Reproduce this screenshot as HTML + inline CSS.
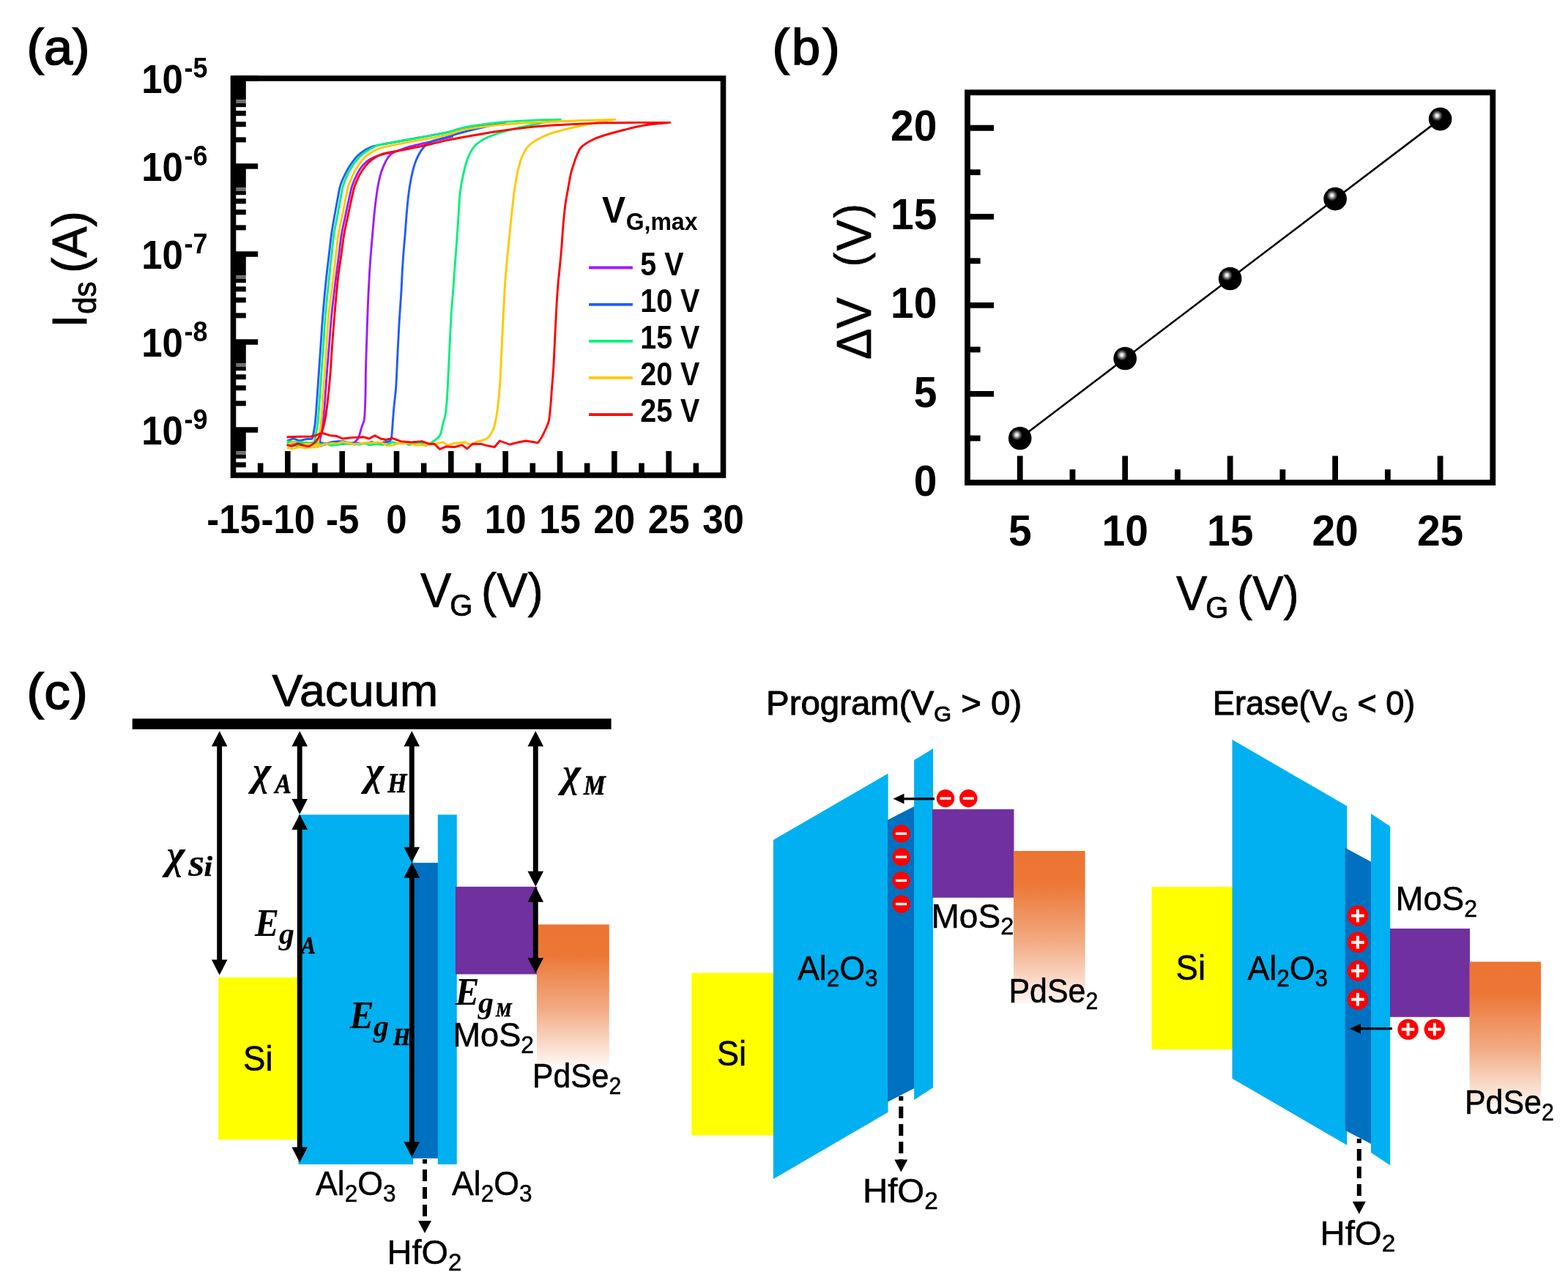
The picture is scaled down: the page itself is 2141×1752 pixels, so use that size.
<!DOCTYPE html>
<html lang="en"><head><meta charset="utf-8"><title>Figure</title>
<style>
html,body{margin:0;padding:0;background:#fff;}
body{width:2141px;height:1752px;overflow:hidden;}
svg{display:block;}
text{fill:#000;}
</style></head><body>
<svg width="2141" height="1752" viewBox="0 0 2141 1752">
<rect x="0" y="0" width="2141" height="1752" fill="#fff"/>
<g id="panel-a">
<path d="M392 605.87L399.5 605.24L407 607.04L414.5 604.96L422 606.63L429.5 606.02L437 604.91L437 601C437.58 597.5 439.5 587.33 440.5 580C441.5 572.67 442.08 568 443 557C443.92 546 444.92 528.33 446 514C447.08 499.67 448.33 485.33 449.5 471C450.67 456.67 451.48 443.17 453 428C454.52 412.83 457.02 393 458.6 380C460.18 367 461.22 360 462.5 350C463.78 340 464.95 328.4 466.3 320C467.65 311.6 469.13 306.6 470.6 299.6C472.07 292.6 473.52 285.2 475.1 278C476.68 270.8 478.77 261.43 480.1 256.4C481.43 251.37 481.95 250.68 483.1 247.8C484.25 244.92 485.55 241.98 487 239.1C488.45 236.22 489.92 233.23 491.8 230.5C493.68 227.77 495.93 224.93 498.3 222.7C500.67 220.47 503.27 218.68 506 217.1C508.73 215.52 511.52 214.35 514.7 213.2C517.88 212.05 520.5 211.35 525.1 210.2C529.7 209.05 536.55 207.97 542.3 206.3C548.05 204.63 548.32 203.23 559.6 200.2C570.88 197.17 600.33 190.38 610 188.1C619.67 185.82 616.33 186.77 617.6 186.5L617.6 186.5C616.33 186.8 619.67 185.98 610 188.3C600.33 190.62 570.88 197.4 559.6 200.4C548.32 203.4 545.75 205.1 542.3 206.3C538.85 207.5 540.33 206.88 538.9 207.6C537.47 208.32 535.28 209.23 533.7 210.6C532.12 211.97 530.83 213.63 529.4 215.8C527.97 217.97 526.55 220.43 525.1 223.6C523.65 226.77 522 230.77 520.7 234.8C519.4 238.83 518.37 242.75 517.3 247.8C516.23 252.85 515.32 257.9 514.3 265.1C513.28 272.3 512.15 281.85 511.2 291C510.25 300.15 509.38 311 508.6 320C507.82 329 507.15 336.67 506.5 345C505.85 353.33 505.37 358.63 504.7 370C504.03 381.37 503.12 398.8 502.5 413.2C501.88 427.6 501.48 442 501 456.4C500.52 470.8 499.95 485.2 499.6 499.6C499.25 514 499.25 530.8 498.9 542.8C498.55 554.8 498.33 564.87 497.5 571.6C496.67 578.33 495.23 578.87 493.9 583.2C492.57 587.53 491.15 594.13 489.5 597.6C487.85 601.07 484.92 602.93 484 604L484 607.04L476.33 604.59L468.67 606.65L461 604.76L453.33 604.87L445.67 606.61L438 608.7L430.33 605.04L422.67 605.56L415 607.66L407.33 609.33L399.67 607.4L392 606.46" fill="none" stroke="#9d1cff" stroke-width="2.9" stroke-linejoin="round" stroke-linecap="butt"/>
<path d="M392 602.21L400.5 598.87L409 601.79L417.5 599.74L426 599.22L427 597C427.5 594.17 429.17 586.67 430 580C430.83 573.33 431.17 568 432 557C432.83 546 434 528.33 435 514C436 499.67 437 485.33 438 471C439 456.67 439.75 443.17 441 428C442.25 412.83 444.17 393 445.5 380C446.83 367 447.83 360 449 350C450.17 340 451.35 328.4 452.5 320C453.65 311.6 454.68 306.6 455.9 299.6C457.12 292.6 458.47 285.2 459.8 278C461.13 270.8 462.75 261.43 463.9 256.4C465.05 251.37 465.58 250.68 466.7 247.8C467.82 244.92 469.2 241.98 470.6 239.1C472 236.22 473.4 233.38 475.1 230.5C476.8 227.62 478.7 224.68 480.8 221.8C482.9 218.92 484.78 216 487.7 213.2C490.62 210.4 494.95 207.13 498.3 205C501.65 202.87 504.5 201.6 507.8 200.4C511.1 199.2 509.47 199.48 518.1 197.8C526.73 196.12 544.28 193.13 559.6 190.3C574.92 187.47 597.73 183.42 610 180.8C622.27 178.18 622.13 176.65 633.2 174.6C644.27 172.55 666.93 169.68 676.4 168.5C685.87 167.32 687.73 167.67 690 167.5L690 167.5C687.73 167.92 683.07 168.58 676.4 170C669.73 171.42 658.57 173.92 650 176C641.43 178.08 631.67 180.62 625 182.5C618.33 184.38 614.42 186 610 187.3C605.58 188.6 601.85 189.37 598.5 190.3C595.15 191.23 592.63 191.67 589.9 192.9C587.17 194.13 584.55 195.62 582.1 197.7C579.65 199.78 577.37 202.23 575.2 205.4C573.03 208.57 570.83 212.8 569.1 216.7C567.37 220.6 566.08 224.33 564.8 228.8C563.52 233.27 562.55 237.45 561.4 243.5C560.25 249.55 558.92 257.18 557.9 265.1C556.88 273.02 556.1 281.85 555.3 291C554.5 300.15 553.82 311 553.1 320C552.38 329 551.63 336.67 551 345C550.37 353.33 549.82 361.03 549.3 370C548.78 378.97 548.62 386.8 547.9 398.8C547.18 410.8 545.85 427.6 545 442C544.15 456.4 543.52 470.8 542.8 485.2C542.08 499.6 541.53 516.4 540.7 528.4C539.87 540.4 538.65 547.6 537.8 557.2C536.95 566.8 536.2 579.03 535.6 586C535 592.97 534.97 596 534.2 599C533.43 602 531.53 603.17 531 604L531 603.01L523.28 604L515.56 606.64L507.83 603.34L500.11 605.42L492.39 605.72L484.67 604.34L476.94 605.25L469.22 602.73L461.5 602.71L453.78 603.47L446.06 605.94L438.33 604.62L430.61 604.03L422.89 605.44L415.17 604.76L407.44 603.96L399.72 606.53L392 606.03" fill="none" stroke="#1f5cff" stroke-width="2.9" stroke-linejoin="round" stroke-linecap="butt"/>
<path d="M392 602.58L401.25 603.77L410.5 603.59L419.75 604.85L429 604.33L430.5 597C431 594.17 432.65 586.67 433.5 580C434.35 573.33 434.75 568 435.6 557C436.45 546 437.6 528.33 438.6 514C439.6 499.67 440.6 485.33 441.6 471C442.6 456.67 443.32 443.17 444.6 428C445.88 412.83 447.97 393 449.3 380C450.63 367 451.5 360 452.6 350C453.7 340 454.7 328.4 455.9 320C457.1 311.6 458.5 306.6 459.8 299.6C461.1 292.6 462.37 285.2 463.7 278C465.03 270.8 466.65 261.43 467.8 256.4C468.95 251.37 469.53 250.68 470.6 247.8C471.67 244.92 472.83 241.98 474.2 239.1C475.57 236.22 477.1 233.38 478.8 230.5C480.5 227.62 482.28 224.62 484.4 221.8C486.52 218.98 488.75 216.18 491.5 213.6C494.25 211.02 497.75 208.42 500.9 206.3C504.05 204.18 507.53 202.32 510.4 200.9C513.27 199.48 509.9 199.57 518.1 197.8C526.3 196.03 544.28 193.13 559.6 190.3C574.92 187.47 597.73 183.5 610 180.8C622.27 178.1 622.13 176.28 633.2 174.1C644.27 171.92 662 169.28 676.4 167.7C690.8 166.12 704.77 165.35 719.6 164.6C734.43 163.85 757.77 163.43 765.4 163.2L765.4 163.2C762.83 163.6 754.75 164.72 750 165.6C745.25 166.48 743.4 167.15 736.9 168.5C730.4 169.85 719.63 171.68 711 173.7C702.37 175.72 692.3 178.43 685.1 180.6C677.9 182.77 672.42 184.82 667.8 186.7C663.18 188.58 660.28 190.18 657.4 191.9C654.52 193.62 652.52 195.13 650.5 197C648.48 198.87 646.88 200.78 645.3 203.1C643.72 205.42 642.3 208.17 641 210.9C639.7 213.63 638.65 216.05 637.5 219.5C636.35 222.95 635.25 226.85 634.1 231.6C632.95 236.35 631.62 242.38 630.6 248C629.58 253.62 628.72 258.3 628 265.3C627.28 272.3 626.97 280.05 626.3 290C625.63 299.95 624.95 311.67 624 325C623.05 338.33 621.52 357.7 620.6 370C619.68 382.3 619.22 389.2 618.5 398.8C617.78 408.4 617.03 415.6 616.3 427.6C615.57 439.6 614.82 456.4 614.1 470.8C613.38 485.2 612.6 502 612 514C611.4 526 611.1 534.4 610.5 542.8C609.9 551.2 609.35 558.38 608.4 564.4C607.45 570.42 606.12 573.85 604.8 578.9C603.48 583.95 603.15 590.38 600.5 594.7C597.85 599.02 590.83 603.12 588.9 604.8L588.9 604.9L581.33 608.5L573.75 604.01L566.18 605.57L558.61 607.34L551.03 604.19L543.46 605.94L535.89 603.6L528.32 606.87L520.74 607.38L513.17 606.38L505.6 607.95L498.02 605.03L490.45 607.02L482.88 606.49L475.3 606.42L467.73 605.77L460.16 607.77L452.58 608.31L445.01 605.87L437.44 606.85L429.87 603.72L422.29 607.05L414.72 606.77L407.15 608.56L399.57 607.67L392 604.88" fill="none" stroke="#00f07c" stroke-width="2.9" stroke-linejoin="round" stroke-linecap="butt"/>
<path d="M392 611.59L400.4 612.61L408.8 610.28L417.2 611.86L425.6 610.8L434 610.62L435 600C435.5 596.67 437.17 587.17 438 580C438.83 572.83 439.17 568 440 557C440.83 546 442 528.33 443 514C444 499.67 445 485.33 446 471C447 456.67 447.5 443.17 449 428C450.5 412.83 453.42 393 455 380C456.58 367 457.33 360 458.5 350C459.67 340 460.7 328.4 462 320C463.3 311.6 464.87 306.6 466.3 299.6C467.73 292.6 469.17 285.2 470.6 278C472.03 270.8 473.67 261.43 474.9 256.4C476.13 251.37 476.85 250.68 478 247.8C479.15 244.92 480.43 241.98 481.8 239.1C483.17 236.22 484.47 233.38 486.2 230.5C487.93 227.62 489.9 224.68 492.2 221.8C494.5 218.92 496.97 215.78 500 213.2C503.03 210.62 506.95 208.2 510.4 206.3C513.85 204.4 516.82 203.03 520.7 201.8C524.58 200.57 527.22 200.23 533.7 198.9C540.18 197.57 546.88 196.23 559.6 193.8C572.32 191.37 597.73 187.07 610 184.3C622.27 181.53 622.13 179.4 633.2 177.2C644.27 175 662 172.68 676.4 171.1C690.8 169.52 704 168.63 719.6 167.7C735.2 166.77 755.77 166.08 770 165.5C784.23 164.92 793.37 164.55 805 164.2C816.63 163.85 834 163.53 839.8 163.4L839.8 163.4C836.5 163.92 826.63 165.35 820 166.5C813.37 167.65 805.83 169.13 800 170.3C794.17 171.47 790 172.35 785 173.5C780 174.65 775.13 175.87 770 177.2C764.87 178.53 759 179.92 754.2 181.5C749.4 183.08 745.23 184.83 741.2 186.7C737.17 188.57 733.17 190.68 730 192.7C726.83 194.72 724.37 196.63 722.2 198.8C720.03 200.97 718.58 203.12 717 205.7C715.42 208.28 713.98 211.13 712.7 214.3C711.42 217.47 710.45 220.52 709.3 224.7C708.15 228.88 706.97 233.35 705.8 239.4C704.63 245.45 703.45 252.57 702.3 261C701.15 269.43 699.93 280.63 698.9 290C697.87 299.37 697.05 307.87 696.1 317.2C695.15 326.53 694.05 337.2 693.2 346C692.35 354.8 691.72 361.2 691 370C690.28 378.8 689.62 386.8 688.9 398.8C688.18 410.8 687.42 427.6 686.7 442C685.98 456.4 685.32 470.8 684.6 485.2C683.88 499.6 683.25 516.4 682.4 528.4C681.55 540.4 680.58 548.8 679.5 557.2C678.42 565.6 677.22 573.27 675.9 578.8C674.58 584.33 673.52 587.03 671.6 590.4C669.68 593.77 668 596.85 664.4 599C660.8 601.15 652.4 602.58 650 603.3L650 603.71L642.41 607.39L634.82 604.07L627.24 604.69L619.65 605.43L612.06 607.93L604.47 603.82L596.88 605.74L589.29 606.26L581.71 607.99L574.12 607.66L566.53 607.89L558.94 604.85L551.35 605.56L543.76 605.27L536.18 608L528.59 608.38L521 604.18L513.41 604.32L505.82 604.61L498.24 604.61L490.65 605.92L483.06 606.46L475.47 604.77L467.88 603.42L460.29 605.58L452.71 605.32L445.12 606.34L437.53 608.36L429.94 606.99L422.35 606.08L414.76 606.61L407.18 606.92L399.59 603.68L392 608.08" fill="none" stroke="#ffc800" stroke-width="2.9" stroke-linejoin="round" stroke-linecap="butt"/>
<path d="M391.6 607.6C392.83 607.83 396.6 609.27 399 609C401.4 608.73 403.5 606.17 406 606C408.5 605.83 411.33 607.42 414 608C416.67 608.58 419.25 610.25 422 609.5C424.75 608.75 428.17 605.75 430.5 603.5C432.83 601.25 434.58 598.08 436 596C437.42 593.92 437.88 593.83 439 591C440.12 588.17 441.48 584.67 442.7 579C443.92 573.33 444.97 567.83 446.3 557C447.63 546.17 449.48 528.33 450.7 514C451.92 499.67 452.55 485.33 453.6 471C454.65 456.67 455.68 443.17 457 428C458.32 412.83 460.05 393 461.5 380C462.95 367 464.32 360 465.7 350C467.08 340 468.4 328.4 469.8 320C471.2 311.6 472.63 306.6 474.1 299.6C475.57 292.6 477.02 285.2 478.6 278C480.18 270.8 482.22 261.43 483.6 256.4C484.98 251.37 485.68 250.68 486.9 247.8C488.12 244.92 489.37 241.98 490.9 239.1C492.43 236.22 494.15 233.23 496.1 230.5C498.05 227.77 500.22 225.08 502.6 222.7C504.98 220.32 507.82 218 510.4 216.2C512.98 214.4 514.93 213.18 518.1 211.9C521.27 210.62 523.92 209.72 529.4 208.5C534.88 207.28 543.08 206.12 551 204.6C558.92 203.08 567.07 201.57 576.9 199.4C586.73 197.23 597.82 194.12 610 191.6C622.18 189.08 638.93 186.27 650 184.3C661.07 182.33 664.8 181.5 676.4 179.8C688 178.1 704 175.7 719.6 174.1C735.2 172.5 752.8 171.23 770 170.2C787.2 169.17 806.13 168.37 822.8 167.9C839.47 167.43 854.68 167.48 870 167.4C885.32 167.32 907.25 167.4 914.7 167.4L914.7 167.4C908.98 168 890.92 169.32 880.4 171C869.88 172.68 861.2 175.08 851.6 177.5C842 179.92 830 183.22 822.8 185.5C815.6 187.78 813.2 188.68 808.4 191.2C803.6 193.72 797.35 197.35 794 200.6C790.65 203.85 789.97 207.1 788.3 210.7C786.63 214.3 785.45 217.88 784 222.2C782.55 226.52 781.05 230.37 779.6 236.6C778.15 242.83 776.62 252.17 775.3 259.6C773.98 267.03 772.78 272.8 771.7 281.2C770.62 289.6 769.63 300.4 768.8 310C767.97 319.6 767.53 328.8 766.7 338.8C765.87 348.8 764.53 362.4 763.8 370C763.07 377.6 762.9 377.2 762.3 384.4C761.7 391.6 760.92 401.2 760.2 413.2C759.48 425.2 758.72 442 758 456.4C757.28 470.8 756.62 487.6 755.9 499.6C755.18 511.6 754.43 518.8 753.7 528.4C752.97 538 752.22 549.52 751.5 557.2C750.78 564.88 750.47 569.7 749.4 574.5C748.33 579.3 746.78 582.15 745.1 586C743.42 589.85 741.1 594.47 739.3 597.6C737.5 600.73 735.13 603.6 734.3 604.8L726.3 603.3L717.7 602L707.6 604L696 607L682.4 602L675.2 610.5L664.4 608.4L656.6 606.2L645 606.2L637.9 612.7L630.7 607.6L620.6 610.5L609 609.8L600.5 613.4L593.2 606.2L586 606.2L576 602.6L561.6 604L547.2 602.6L535.6 598.3L527 600.5L519.8 599L511.9 594.7L504 599L496.7 596.8L479.5 597.6L467.9 599L459.3 595.4L450.7 594.7L439.1 591L430.5 595L424.7 596L410 596.3L391.6 596.8" fill="none" stroke="#ff0000" stroke-width="2.9" stroke-linejoin="round" stroke-linecap="butt"/>
<rect x="318.5" y="107" width="17.3" height="29.3" fill="#000" />
<rect x="321.5" y="136.3" width="14.3" height="4.6" fill="#6e6e6e" />
<rect x="318.5" y="140.9" width="17.3" height="5.3" fill="#000" />
<line x1="318.5" y1="154.75" x2="335.8" y2="154.75" stroke="#000" stroke-width="7" />
<line x1="318.5" y1="169.75" x2="335.8" y2="169.75" stroke="#000" stroke-width="7" />
<line x1="318.5" y1="190.88" x2="335.8" y2="190.88" stroke="#000" stroke-width="7" />
<rect x="318.5" y="227" width="17.3" height="29.3" fill="#000" />
<rect x="321.5" y="256.3" width="14.3" height="4.6" fill="#6e6e6e" />
<rect x="318.5" y="260.9" width="17.3" height="5.3" fill="#000" />
<line x1="318.5" y1="274.75" x2="335.8" y2="274.75" stroke="#000" stroke-width="7" />
<line x1="318.5" y1="289.75" x2="335.8" y2="289.75" stroke="#000" stroke-width="7" />
<line x1="318.5" y1="310.88" x2="335.8" y2="310.88" stroke="#000" stroke-width="7" />
<rect x="318.5" y="347" width="17.3" height="29.3" fill="#000" />
<rect x="321.5" y="376.3" width="14.3" height="4.6" fill="#6e6e6e" />
<rect x="318.5" y="380.9" width="17.3" height="5.3" fill="#000" />
<line x1="318.5" y1="394.75" x2="335.8" y2="394.75" stroke="#000" stroke-width="7" />
<line x1="318.5" y1="409.75" x2="335.8" y2="409.75" stroke="#000" stroke-width="7" />
<line x1="318.5" y1="430.88" x2="335.8" y2="430.88" stroke="#000" stroke-width="7" />
<rect x="318.5" y="467" width="17.3" height="29.3" fill="#000" />
<rect x="321.5" y="496.3" width="14.3" height="4.6" fill="#6e6e6e" />
<rect x="318.5" y="500.9" width="17.3" height="5.3" fill="#000" />
<line x1="318.5" y1="514.75" x2="335.8" y2="514.75" stroke="#000" stroke-width="7" />
<line x1="318.5" y1="529.75" x2="335.8" y2="529.75" stroke="#000" stroke-width="7" />
<line x1="318.5" y1="550.88" x2="335.8" y2="550.88" stroke="#000" stroke-width="7" />
<rect x="318.5" y="587" width="17.3" height="29.3" fill="#000" />
<rect x="321.5" y="616.3" width="14.3" height="4.6" fill="#6e6e6e" />
<rect x="318.5" y="620.9" width="17.3" height="5.3" fill="#000" />
<line x1="318.5" y1="634.75" x2="335.8" y2="634.75" stroke="#000" stroke-width="7" />
<line x1="318.5" y1="107" x2="352.2" y2="107" stroke="#000" stroke-width="7.6" />
<line x1="318.5" y1="227" x2="352.2" y2="227" stroke="#000" stroke-width="7.6" />
<line x1="318.5" y1="347" x2="352.2" y2="347" stroke="#000" stroke-width="7.6" />
<line x1="318.5" y1="467" x2="352.2" y2="467" stroke="#000" stroke-width="7.6" />
<line x1="318.5" y1="587" x2="352.2" y2="587" stroke="#000" stroke-width="7.6" />
<line x1="355.67" y1="649" x2="355.67" y2="632.4" stroke="#000" stroke-width="7.6" />
<line x1="392.83" y1="649" x2="392.83" y2="616" stroke="#000" stroke-width="7.6" />
<line x1="430" y1="649" x2="430" y2="632.4" stroke="#000" stroke-width="7.6" />
<line x1="467.17" y1="649" x2="467.17" y2="616" stroke="#000" stroke-width="7.6" />
<line x1="504.33" y1="649" x2="504.33" y2="632.4" stroke="#000" stroke-width="7.6" />
<line x1="541.5" y1="649" x2="541.5" y2="616" stroke="#000" stroke-width="7.6" />
<line x1="578.67" y1="649" x2="578.67" y2="632.4" stroke="#000" stroke-width="7.6" />
<line x1="615.83" y1="649" x2="615.83" y2="616" stroke="#000" stroke-width="7.6" />
<line x1="653" y1="649" x2="653" y2="632.4" stroke="#000" stroke-width="7.6" />
<line x1="690.17" y1="649" x2="690.17" y2="616" stroke="#000" stroke-width="7.6" />
<line x1="727.33" y1="649" x2="727.33" y2="632.4" stroke="#000" stroke-width="7.6" />
<line x1="764.5" y1="649" x2="764.5" y2="616" stroke="#000" stroke-width="7.6" />
<line x1="801.67" y1="649" x2="801.67" y2="632.4" stroke="#000" stroke-width="7.6" />
<line x1="838.83" y1="649" x2="838.83" y2="616" stroke="#000" stroke-width="7.6" />
<line x1="876" y1="649" x2="876" y2="632.4" stroke="#000" stroke-width="7.6" />
<line x1="913.17" y1="649" x2="913.17" y2="616" stroke="#000" stroke-width="7.6" />
<line x1="950.33" y1="649" x2="950.33" y2="632.4" stroke="#000" stroke-width="7.6" />
<rect x="318.5" y="107" width="669" height="542" fill="none" stroke="#000" stroke-width="7.6"/>
<text transform="translate(193.2 127.3) scale(1 1.075)" font-family="'Liberation Sans', sans-serif" font-size="51" font-weight="bold" font-style="normal" text-anchor="start" >10<tspan font-size="36" dy="-19.6" dx="1.5">-5</tspan></text>
<text transform="translate(193.2 247.3) scale(1 1.075)" font-family="'Liberation Sans', sans-serif" font-size="51" font-weight="bold" font-style="normal" text-anchor="start" >10<tspan font-size="36" dy="-19.6" dx="1.5">-6</tspan></text>
<text transform="translate(193.2 367.3) scale(1 1.075)" font-family="'Liberation Sans', sans-serif" font-size="51" font-weight="bold" font-style="normal" text-anchor="start" >10<tspan font-size="36" dy="-19.6" dx="1.5">-7</tspan></text>
<text transform="translate(193.2 487.3) scale(1 1.075)" font-family="'Liberation Sans', sans-serif" font-size="51" font-weight="bold" font-style="normal" text-anchor="start" >10<tspan font-size="36" dy="-19.6" dx="1.5">-8</tspan></text>
<text transform="translate(193.2 607.3) scale(1 1.075)" font-family="'Liberation Sans', sans-serif" font-size="51" font-weight="bold" font-style="normal" text-anchor="start" >10<tspan font-size="36" dy="-19.6" dx="1.5">-9</tspan></text>
<text transform="translate(319 728.3) scale(1 1.075)" font-family="'Liberation Sans', sans-serif" font-size="51" font-weight="bold" font-style="normal" text-anchor="middle" >-15</text>
<text transform="translate(393.33 728.3) scale(1 1.075)" font-family="'Liberation Sans', sans-serif" font-size="51" font-weight="bold" font-style="normal" text-anchor="middle" >-10</text>
<text transform="translate(467.67 728.3) scale(1 1.075)" font-family="'Liberation Sans', sans-serif" font-size="51" font-weight="bold" font-style="normal" text-anchor="middle" >-5</text>
<text transform="translate(541.5 728.3) scale(1 1.075)" font-family="'Liberation Sans', sans-serif" font-size="51" font-weight="bold" font-style="normal" text-anchor="middle" >0</text>
<text transform="translate(615.83 728.3) scale(1 1.075)" font-family="'Liberation Sans', sans-serif" font-size="51" font-weight="bold" font-style="normal" text-anchor="middle" >5</text>
<text transform="translate(690.17 728.3) scale(1 1.075)" font-family="'Liberation Sans', sans-serif" font-size="51" font-weight="bold" font-style="normal" text-anchor="middle" >10</text>
<text transform="translate(764.5 728.3) scale(1 1.075)" font-family="'Liberation Sans', sans-serif" font-size="51" font-weight="bold" font-style="normal" text-anchor="middle" >15</text>
<text transform="translate(838.83 728.3) scale(1 1.075)" font-family="'Liberation Sans', sans-serif" font-size="51" font-weight="bold" font-style="normal" text-anchor="middle" >20</text>
<text transform="translate(913.17 728.3) scale(1 1.075)" font-family="'Liberation Sans', sans-serif" font-size="51" font-weight="bold" font-style="normal" text-anchor="middle" >25</text>
<text transform="translate(987.5 728.3) scale(1 1.075)" font-family="'Liberation Sans', sans-serif" font-size="51" font-weight="bold" font-style="normal" text-anchor="middle" >30</text>
<text transform="translate(574 829) scale(1 1.055)" font-family="'Liberation Sans', sans-serif" font-size="63.5" font-weight="normal" font-style="normal" text-anchor="start" stroke="#000" stroke-width="0.7">V<tspan font-size="40" dy="11" dx="-2">G</tspan><tspan dy="-11" dx="-6"> (V)</tspan></text>
<text transform="translate(117.8 447.5) rotate(-90) scale(1 1.055)" font-family="'Liberation Sans', sans-serif" font-size="63.5" font-weight="normal" font-style="normal" text-anchor="start" stroke="#000" stroke-width="0.9">I<tspan font-size="42" dy="12.8" dx="1">ds</tspan><tspan dy="-12.8" dx="-6"> (A)</tspan></text>
<text transform="translate(36.5 87.7) scale(1.02 1)" font-family="'Liberation Sans', sans-serif" font-size="69" font-weight="normal" font-style="normal" text-anchor="start" stroke="#000" stroke-width="1.7">(a)</text>
<text transform="translate(822 304.2) scale(1 1.055)" font-family="'Liberation Sans', sans-serif" font-size="48.2" font-weight="bold" font-style="normal" text-anchor="start" >V<tspan font-size="32" dy="9.6" dx="0.5">G,max</tspan></text>
<line x1="804.1" y1="365.5" x2="863.9" y2="365.5" stroke="#9d1cff" stroke-width="3.8" />
<text transform="translate(874.2 375.7) scale(1 1.1)" font-family="'Liberation Sans', sans-serif" font-size="39.5" font-weight="bold" font-style="normal" text-anchor="start" >5 V</text>
<line x1="804.1" y1="415.8" x2="863.9" y2="415.8" stroke="#1f5cff" stroke-width="3.8" />
<text transform="translate(874.2 426) scale(1 1.1)" font-family="'Liberation Sans', sans-serif" font-size="39.5" font-weight="bold" font-style="normal" text-anchor="start" >10 V</text>
<line x1="804.1" y1="465.8" x2="863.9" y2="465.8" stroke="#00f07c" stroke-width="3.8" />
<text transform="translate(874.2 476) scale(1 1.1)" font-family="'Liberation Sans', sans-serif" font-size="39.5" font-weight="bold" font-style="normal" text-anchor="start" >15 V</text>
<line x1="804.1" y1="515.9" x2="863.9" y2="515.9" stroke="#ffc800" stroke-width="3.8" />
<text transform="translate(874.2 526.1) scale(1 1.1)" font-family="'Liberation Sans', sans-serif" font-size="39.5" font-weight="bold" font-style="normal" text-anchor="start" >20 V</text>
<line x1="804.1" y1="566.2" x2="863.9" y2="566.2" stroke="#ff0000" stroke-width="3.8" />
<text transform="translate(874.2 576.4) scale(1 1.1)" font-family="'Liberation Sans', sans-serif" font-size="39.5" font-weight="bold" font-style="normal" text-anchor="start" >25 V</text>
</g>
<defs><radialGradient id="ball" cx="0.37" cy="0.36" r="0.6" fx="0.36" fy="0.35"><stop offset="0" stop-color="#ffffff"/><stop offset="0.1" stop-color="#e0e0e0"/><stop offset="0.24" stop-color="#6a6a6a"/><stop offset="0.4" stop-color="#000000"/><stop offset="1" stop-color="#000000"/></radialGradient></defs>
<g id="panel-b">
<line x1="1321" y1="598.47" x2="1338.6" y2="598.47" stroke="#000" stroke-width="7.8" />
<line x1="1321" y1="537.93" x2="1357" y2="537.93" stroke="#000" stroke-width="7.8" />
<line x1="1321" y1="477.4" x2="1338.6" y2="477.4" stroke="#000" stroke-width="7.8" />
<line x1="1321" y1="416.86" x2="1357" y2="416.86" stroke="#000" stroke-width="7.8" />
<line x1="1321" y1="356.33" x2="1338.6" y2="356.33" stroke="#000" stroke-width="7.8" />
<line x1="1321" y1="295.8" x2="1357" y2="295.8" stroke="#000" stroke-width="7.8" />
<line x1="1321" y1="235.26" x2="1338.6" y2="235.26" stroke="#000" stroke-width="7.8" />
<line x1="1321" y1="174.73" x2="1357" y2="174.73" stroke="#000" stroke-width="7.8" />
<line x1="1392.73" y1="659" x2="1392.73" y2="622.5" stroke="#000" stroke-width="7.8" />
<line x1="1464.46" y1="659" x2="1464.46" y2="641" stroke="#000" stroke-width="7.8" />
<line x1="1536.19" y1="659" x2="1536.19" y2="622.5" stroke="#000" stroke-width="7.8" />
<line x1="1607.92" y1="659" x2="1607.92" y2="641" stroke="#000" stroke-width="7.8" />
<line x1="1679.65" y1="659" x2="1679.65" y2="622.5" stroke="#000" stroke-width="7.8" />
<line x1="1751.38" y1="659" x2="1751.38" y2="641" stroke="#000" stroke-width="7.8" />
<line x1="1823.11" y1="659" x2="1823.11" y2="622.5" stroke="#000" stroke-width="7.8" />
<line x1="1894.84" y1="659" x2="1894.84" y2="641" stroke="#000" stroke-width="7.8" />
<line x1="1966.57" y1="659" x2="1966.57" y2="622.5" stroke="#000" stroke-width="7.8" />
<rect x="1321" y="126.3" width="717.3" height="532.7" fill="none" stroke="#000" stroke-width="7.8"/>
<path d="M1392.73 598.47L1536.19 489.5L1679.65 380.54L1823.11 271.58L1966.57 162.62" fill="none" stroke="#000" stroke-width="2.6"/>
<circle cx="1392.73" cy="598.47" r="15.8" fill="url(#ball)"/>
<circle cx="1536.19" cy="489.5" r="15.8" fill="url(#ball)"/>
<circle cx="1679.65" cy="380.54" r="15.8" fill="url(#ball)"/>
<circle cx="1823.11" cy="271.58" r="15.8" fill="url(#ball)"/>
<circle cx="1966.57" cy="162.62" r="15.8" fill="url(#ball)"/>
<text transform="translate(1279.5 676.6) scale(1 1.045)" font-family="'Liberation Sans', sans-serif" font-size="57" font-weight="bold" font-style="normal" text-anchor="end" >0</text>
<text transform="translate(1279.5 555.53) scale(1 1.045)" font-family="'Liberation Sans', sans-serif" font-size="57" font-weight="bold" font-style="normal" text-anchor="end" >5</text>
<text transform="translate(1279.5 434.46) scale(1 1.045)" font-family="'Liberation Sans', sans-serif" font-size="57" font-weight="bold" font-style="normal" text-anchor="end" >10</text>
<text transform="translate(1279.5 313.4) scale(1 1.045)" font-family="'Liberation Sans', sans-serif" font-size="57" font-weight="bold" font-style="normal" text-anchor="end" >15</text>
<text transform="translate(1279.5 192.33) scale(1 1.045)" font-family="'Liberation Sans', sans-serif" font-size="57" font-weight="bold" font-style="normal" text-anchor="end" >20</text>
<text transform="translate(1392.73 744.8) scale(1 1.045)" font-family="'Liberation Sans', sans-serif" font-size="57" font-weight="bold" font-style="normal" text-anchor="middle" >5</text>
<text transform="translate(1536.19 744.8) scale(1 1.045)" font-family="'Liberation Sans', sans-serif" font-size="57" font-weight="bold" font-style="normal" text-anchor="middle" >10</text>
<text transform="translate(1679.65 744.8) scale(1 1.045)" font-family="'Liberation Sans', sans-serif" font-size="57" font-weight="bold" font-style="normal" text-anchor="middle" >15</text>
<text transform="translate(1823.11 744.8) scale(1 1.045)" font-family="'Liberation Sans', sans-serif" font-size="57" font-weight="bold" font-style="normal" text-anchor="middle" >20</text>
<text transform="translate(1966.57 744.8) scale(1 1.045)" font-family="'Liberation Sans', sans-serif" font-size="57" font-weight="bold" font-style="normal" text-anchor="middle" >25</text>
<text transform="translate(1606 832.5) scale(1 1.055)" font-family="'Liberation Sans', sans-serif" font-size="63.5" font-weight="normal" font-style="normal" text-anchor="start" stroke="#000" stroke-width="0.7">V<tspan font-size="40" dy="11" dx="-2">G</tspan><tspan dy="-11" dx="-6"> (V)</tspan></text>
<text transform="translate(1188.6 491) rotate(-90) scale(1 1.055)" font-family="'Liberation Sans', sans-serif" font-size="63.5" font-weight="normal" font-style="normal" text-anchor="start" stroke="#000" stroke-width="0.7">ΔV<tspan dy="-6.5" dx="42" font-size="58">(</tspan><tspan dy="6.5" dx="2.5">V</tspan><tspan dy="-6.5" dx="2.5" font-size="58">)</tspan></text>
<text transform="translate(1054.5 87.7) scale(1.02 1)" font-family="'Liberation Sans', sans-serif" font-size="69" font-weight="normal" font-style="normal" text-anchor="start" stroke="#000" stroke-width="1.7" letter-spacing="3">(b)</text>
</g>
<defs><linearGradient id="pd" x1="0" y1="0" x2="0" y2="1"><stop offset="0" stop-color="#ed7431"/><stop offset="0.22" stop-color="#ec7736"/><stop offset="0.6" stop-color="#f3ab84"/><stop offset="1" stop-color="#fef7f3"/></linearGradient></defs>
<g id="panel-c">
<rect x="298.1" y="1334.7" width="110.4" height="221.6" fill="#ffff00" />
<rect x="407.5" y="1112.5" width="156.7" height="477.5" fill="#00b0f0" />
<rect x="562" y="1178.2" width="36.5" height="403.6" fill="#0070c0" />
<rect x="597.8" y="1112.5" width="26" height="477.5" fill="#00b0f0" />
<rect x="621.9" y="1210.8" width="111.6" height="119.6" fill="#7030a0" />
<rect x="733" y="1262.4" width="98.8" height="192.6" fill="url(#pd)" />
<rect x="180.7" y="981.3" width="653.9" height="14.5" fill="#000" />
<line x1="299.7" y1="1018.3" x2="299.7" y2="1311.6" stroke="#000" stroke-width="6.9"/>
<polygon points="299.7,998.3 288.9,1019.3 310.5,1019.3" fill="#000" />
<polygon points="299.7,1331.6 288.9,1310.6 310.5,1310.6" fill="#000" />
<line x1="409.2" y1="1018.3" x2="409.2" y2="1092" stroke="#000" stroke-width="6.9"/>
<polygon points="409.2,998.3 398.4,1019.3 420,1019.3" fill="#000" />
<polygon points="409.2,1112 398.4,1091 420,1091" fill="#000" />
<line x1="409.2" y1="1132" x2="409.2" y2="1567.4" stroke="#000" stroke-width="6.9"/>
<polygon points="409.2,1112 398.4,1133 420,1133" fill="#000" />
<polygon points="409.2,1587.4 398.4,1566.4 420,1566.4" fill="#000" />
<line x1="562.3" y1="1018.3" x2="562.3" y2="1157.7" stroke="#000" stroke-width="6.9"/>
<polygon points="562.3,998.3 551.5,1019.3 573.1,1019.3" fill="#000" />
<polygon points="562.3,1177.7 551.5,1156.7 573.1,1156.7" fill="#000" />
<line x1="562.3" y1="1197.7" x2="562.3" y2="1560.2" stroke="#000" stroke-width="6.9"/>
<polygon points="562.3,1177.7 551.5,1198.7 573.1,1198.7" fill="#000" />
<polygon points="562.3,1580.2 551.5,1559.2 573.1,1559.2" fill="#000" />
<line x1="731.3" y1="1018.3" x2="731.3" y2="1190.8" stroke="#000" stroke-width="6.9"/>
<polygon points="731.3,998.3 720.5,1019.3 742.1,1019.3" fill="#000" />
<polygon points="731.3,1210.8 720.5,1189.8 742.1,1189.8" fill="#000" />
<line x1="731.3" y1="1230.8" x2="731.3" y2="1309" stroke="#000" stroke-width="6.9"/>
<polygon points="731.3,1210.8 720.5,1231.8 742.1,1231.8" fill="#000" />
<polygon points="731.3,1329 720.5,1308 742.1,1308" fill="#000" />
<line x1="580" y1="1583" x2="580" y2="1668" stroke="#000" stroke-width="6" stroke-dasharray="16 8" stroke-dashoffset="10"/>
<polygon points="580,1684 571,1667 589,1667" fill="#000" />
<text transform="translate(371.5 964) scale(1.035 1)" font-family="'Liberation Sans', sans-serif" font-size="60.5" font-weight="normal" font-style="normal" text-anchor="start" stroke="#000" stroke-width="0.9" letter-spacing="0.3">Vacuum</text>
<text transform="translate(36.5 968) scale(1.02 1)" font-family="'Liberation Sans', sans-serif" font-size="69" font-weight="normal" font-style="normal" text-anchor="start" stroke="#000" stroke-width="1.7" letter-spacing="0.5">(c)</text>
<text transform="translate(352.3 1462.3) scale(1 1.04)" font-family="'Liberation Sans', sans-serif" font-size="45.5" font-weight="normal" font-style="normal" text-anchor="middle" stroke="#000" stroke-width="0.5">Si</text>
<text transform="translate(431 1632) scale(1 1.04)" font-family="'Liberation Sans', sans-serif" font-size="44.7" font-weight="normal" font-style="normal" text-anchor="start" stroke="#000" stroke-width="0.5"><tspan font-size="44.7">Al</tspan><tspan font-size="31.5" dy="8.5">2</tspan><tspan font-size="44.7" dy="-8.5">O</tspan><tspan font-size="31.5" dy="8.5">3</tspan></text>
<text transform="translate(617 1632) scale(1 1.04)" font-family="'Liberation Sans', sans-serif" font-size="44.7" font-weight="normal" font-style="normal" text-anchor="start" stroke="#000" stroke-width="0.5"><tspan font-size="44.7">Al</tspan><tspan font-size="31.5" dy="8.5">2</tspan><tspan font-size="44.7" dy="-8.5">O</tspan><tspan font-size="31.5" dy="8.5">3</tspan></text>
<text transform="translate(528.5 1726) scale(1.05 1.04)" font-family="'Liberation Sans', sans-serif" font-size="44.7" font-weight="normal" font-style="normal" text-anchor="start" stroke="#000" stroke-width="0.5"><tspan font-size="44.7">HfO</tspan><tspan font-size="31.5" dy="8.5">2</tspan></text>
<text transform="translate(618.5 1429) scale(1.01 1.04)" font-family="'Liberation Sans', sans-serif" font-size="44.7" font-weight="normal" font-style="normal" text-anchor="start" stroke="#000" stroke-width="0.5"><tspan font-size="44.7">MoS</tspan><tspan font-size="31.5" dy="8.5">2</tspan></text>
<text transform="translate(727 1485) scale(0.955 1.04)" font-family="'Liberation Sans', sans-serif" font-size="44.7" font-weight="normal" font-style="normal" text-anchor="start" stroke="#000" stroke-width="0.5"><tspan font-size="44.7">PdSe</tspan><tspan font-size="31.5" dy="8.5">2</tspan></text>
<text transform="translate(227.5 1186) scale(0.95 1)" font-family="'Liberation Serif', 'DejaVu Serif', serif" font-size="57" font-weight="bold" font-style="italic" text-anchor="start" >χ</text>
<text transform="translate(256.5 1196) scale(1.08 1)" font-family="'Liberation Serif', 'DejaVu Serif', serif" font-size="37" font-weight="bold" font-style="italic" text-anchor="start" stroke="#000" stroke-width="0.7">Si</text>
<text transform="translate(345 1072) scale(0.95 1)" font-family="'Liberation Serif', 'DejaVu Serif', serif" font-size="57" font-weight="bold" font-style="italic" text-anchor="start" >χ</text>
<text transform="translate(375.5 1083) scale(0.9 1)" font-family="'Liberation Serif', 'DejaVu Serif', serif" font-size="37" font-weight="bold" font-style="italic" text-anchor="start" stroke="#000" stroke-width="0.7">A</text>
<text transform="translate(499 1072) scale(0.95 1)" font-family="'Liberation Serif', 'DejaVu Serif', serif" font-size="57" font-weight="bold" font-style="italic" text-anchor="start" >χ</text>
<text transform="translate(529.5 1082) scale(0.9 1)" font-family="'Liberation Serif', 'DejaVu Serif', serif" font-size="37" font-weight="bold" font-style="italic" text-anchor="start" stroke="#000" stroke-width="0.7">H</text>
<text transform="translate(768 1074) scale(0.95 1)" font-family="'Liberation Serif', 'DejaVu Serif', serif" font-size="57" font-weight="bold" font-style="italic" text-anchor="start" >χ</text>
<text transform="translate(797 1084.5) scale(0.9 1)" font-family="'Liberation Serif', 'DejaVu Serif', serif" font-size="37" font-weight="bold" font-style="italic" text-anchor="start" stroke="#000" stroke-width="0.7">M</text>
<text transform="translate(348 1278) scale(0.95 1)" font-family="'Liberation Serif', 'DejaVu Serif', serif" font-size="52" font-weight="bold" font-style="italic" text-anchor="start" >E</text>
<text transform="translate(381 1288.5)" font-family="'Liberation Serif', 'DejaVu Serif', serif" font-size="42" font-weight="bold" font-style="italic" text-anchor="start" >g</text>
<text transform="translate(411 1301.5) scale(0.9 1)" font-family="'Liberation Serif', 'DejaVu Serif', serif" font-size="33" font-weight="bold" font-style="italic" text-anchor="start" stroke="#000" stroke-width="0.7">A</text>
<text transform="translate(477.5 1404) scale(0.95 1)" font-family="'Liberation Serif', 'DejaVu Serif', serif" font-size="52" font-weight="bold" font-style="italic" text-anchor="start" >E</text>
<text transform="translate(510 1414.5)" font-family="'Liberation Serif', 'DejaVu Serif', serif" font-size="42" font-weight="bold" font-style="italic" text-anchor="start" >g</text>
<text transform="translate(537 1427) scale(0.9 1)" font-family="'Liberation Serif', 'DejaVu Serif', serif" font-size="33" font-weight="bold" font-style="italic" text-anchor="start" stroke="#000" stroke-width="0.7">H</text>
<text transform="translate(621.5 1372.3) scale(0.95 1)" font-family="'Liberation Serif', 'DejaVu Serif', serif" font-size="52" font-weight="bold" font-style="italic" text-anchor="start" >E</text>
<text transform="translate(653 1382.5)" font-family="'Liberation Serif', 'DejaVu Serif', serif" font-size="42" font-weight="bold" font-style="italic" text-anchor="start" >g</text>
<text transform="translate(677 1388) scale(0.9 1)" font-family="'Liberation Serif', 'DejaVu Serif', serif" font-size="27" font-weight="bold" font-style="italic" text-anchor="start" stroke="#000" stroke-width="0.7">M</text>
<rect x="944.3" y="1328.6" width="112.7" height="221.8" fill="#ffff00" />
<polygon points="1055.9,1146.9 1212.6,1056.3 1212.6,1518.8 1055.9,1610" fill="#00b0f0" />
<polygon points="1212,1119.7 1248.5,1101 1248.5,1486 1212,1504.8" fill="#0070c0" />
<polygon points="1248.1,1037.9 1274.1,1022.1 1274.1,1485.2 1248.1,1501.9" fill="#00b0f0" />
<rect x="1273" y="1105.1" width="111.5" height="120.7" fill="#7030a0" />
<rect x="1384" y="1162" width="97.6" height="208" fill="url(#pd)" />
<line x1="1230.3" y1="1497" x2="1230.3" y2="1584.6" stroke="#000" stroke-width="6" stroke-dasharray="16 8" stroke-dashoffset="10"/>
<polygon points="1230.3,1600.6 1221.3,1583.6 1239.3,1583.6" fill="#000" />
<line x1="1276" y1="1090.8" x2="1232.5" y2="1090.8" stroke="#000" stroke-width="3.2" />
<polygon points="1219.5,1090.8 1234.5,1083.8 1234.5,1097.8" fill="#000" />
<circle cx="1291" cy="1090.2" r="12.2" fill="#ff0000"/>
<line x1="1283.44" y1="1090.2" x2="1298.56" y2="1090.2" stroke="#fff" stroke-width="3.42"/>
<circle cx="1322.3" cy="1090.2" r="12.2" fill="#ff0000"/>
<line x1="1314.74" y1="1090.2" x2="1329.86" y2="1090.2" stroke="#fff" stroke-width="3.42"/>
<circle cx="1230.6" cy="1138.4" r="12.2" fill="#ff0000"/>
<line x1="1223.04" y1="1138.4" x2="1238.16" y2="1138.4" stroke="#fff" stroke-width="3.42"/>
<circle cx="1230.6" cy="1170.3" r="12.2" fill="#ff0000"/>
<line x1="1223.04" y1="1170.3" x2="1238.16" y2="1170.3" stroke="#fff" stroke-width="3.42"/>
<circle cx="1230.6" cy="1202.4" r="12.2" fill="#ff0000"/>
<line x1="1223.04" y1="1202.4" x2="1238.16" y2="1202.4" stroke="#fff" stroke-width="3.42"/>
<circle cx="1230.6" cy="1234.5" r="12.2" fill="#ff0000"/>
<line x1="1223.04" y1="1234.5" x2="1238.16" y2="1234.5" stroke="#fff" stroke-width="3.42"/>
<text transform="translate(1046 976) scale(1.02 1)" font-family="'Liberation Sans', sans-serif" font-size="46.5" font-weight="normal" font-style="normal" text-anchor="start" stroke="#000" stroke-width="1.0">Program(V<tspan font-size="30" dy="9">G</tspan><tspan dy="-9"> &gt; 0)</tspan></text>
<text transform="translate(998.9 1455.4) scale(1 1.04)" font-family="'Liberation Sans', sans-serif" font-size="45.5" font-weight="normal" font-style="normal" text-anchor="middle" stroke="#000" stroke-width="0.5">Si</text>
<text transform="translate(1089 1338.3) scale(1 1.04)" font-family="'Liberation Sans', sans-serif" font-size="44.7" font-weight="normal" font-style="normal" text-anchor="start" stroke="#000" stroke-width="0.5"><tspan font-size="44.7">Al</tspan><tspan font-size="31.5" dy="8.5">2</tspan><tspan font-size="44.7" dy="-8.5">O</tspan><tspan font-size="31.5" dy="8.5">3</tspan></text>
<text transform="translate(1271.5 1267.3) scale(1.03 1.04)" font-family="'Liberation Sans', sans-serif" font-size="44.7" font-weight="normal" font-style="normal" text-anchor="start" stroke="#000" stroke-width="0.5"><tspan font-size="44.7">MoS</tspan><tspan font-size="31.5" dy="8.5">2</tspan></text>
<text transform="translate(1377.5 1369) scale(0.96 1.04)" font-family="'Liberation Sans', sans-serif" font-size="44.7" font-weight="normal" font-style="normal" text-anchor="start" stroke="#000" stroke-width="0.5"><tspan font-size="44.7">PdSe</tspan><tspan font-size="31.5" dy="8.5">2</tspan></text>
<text transform="translate(1178 1642.4) scale(1.06 1.04)" font-family="'Liberation Sans', sans-serif" font-size="44.7" font-weight="normal" font-style="normal" text-anchor="start" stroke="#000" stroke-width="0.5"><tspan font-size="44.7">HfO</tspan><tspan font-size="31.5" dy="8.5">2</tspan></text>
<rect x="1572.5" y="1211" width="111" height="222" fill="#ffff00" />
<polygon points="1682.5,1010 1839.3,1100.7 1839.3,1563.8 1682.5,1472.7" fill="#00b0f0" />
<polygon points="1836.6,1157.8 1872.5,1177 1872.5,1562.3 1836.6,1543.5" fill="#0070c0" />
<polygon points="1872,1111 1898.2,1128.4 1898.2,1591.2 1872,1573.9" fill="#00b0f0" />
<rect x="1898" y="1268" width="109" height="120.8" fill="#7030a0" />
<rect x="2006.5" y="1313.3" width="97.5" height="198.7" fill="url(#pd)" />
<line x1="1855.8" y1="1555" x2="1855.8" y2="1641.7" stroke="#000" stroke-width="6" stroke-dasharray="16 8" stroke-dashoffset="10"/>
<polygon points="1855.8,1657.7 1846.8,1640.7 1864.8,1640.7" fill="#000" />
<line x1="1901" y1="1404.7" x2="1856" y2="1404.7" stroke="#000" stroke-width="3.2" />
<polygon points="1843,1404.7 1858,1397.7 1858,1411.7" fill="#000" />
<circle cx="1853.9" cy="1250.5" r="14.2" fill="#ff0000"/>
<line x1="1845.1" y1="1250.5" x2="1862.7" y2="1250.5" stroke="#fff" stroke-width="3.98"/>
<line x1="1853.9" y1="1241.7" x2="1853.9" y2="1259.3" stroke="#fff" stroke-width="3.98"/>
<circle cx="1853.9" cy="1286.8" r="14.2" fill="#ff0000"/>
<line x1="1845.1" y1="1286.8" x2="1862.7" y2="1286.8" stroke="#fff" stroke-width="3.98"/>
<line x1="1853.9" y1="1278" x2="1853.9" y2="1295.6" stroke="#fff" stroke-width="3.98"/>
<circle cx="1853.9" cy="1325.7" r="14.2" fill="#ff0000"/>
<line x1="1845.1" y1="1325.7" x2="1862.7" y2="1325.7" stroke="#fff" stroke-width="3.98"/>
<line x1="1853.9" y1="1316.9" x2="1853.9" y2="1334.5" stroke="#fff" stroke-width="3.98"/>
<circle cx="1853.9" cy="1364.7" r="14.2" fill="#ff0000"/>
<line x1="1845.1" y1="1364.7" x2="1862.7" y2="1364.7" stroke="#fff" stroke-width="3.98"/>
<line x1="1853.9" y1="1355.9" x2="1853.9" y2="1373.5" stroke="#fff" stroke-width="3.98"/>
<circle cx="1922.6" cy="1405.6" r="14.2" fill="#ff0000"/>
<line x1="1913.8" y1="1405.6" x2="1931.4" y2="1405.6" stroke="#fff" stroke-width="3.98"/>
<line x1="1922.6" y1="1396.8" x2="1922.6" y2="1414.4" stroke="#fff" stroke-width="3.98"/>
<circle cx="1958.8" cy="1405.6" r="14.2" fill="#ff0000"/>
<line x1="1950" y1="1405.6" x2="1967.6" y2="1405.6" stroke="#fff" stroke-width="3.98"/>
<line x1="1958.8" y1="1396.8" x2="1958.8" y2="1414.4" stroke="#fff" stroke-width="3.98"/>
<text transform="translate(1656 975.5) scale(0.967 1)" font-family="'Liberation Sans', sans-serif" font-size="46.5" font-weight="normal" font-style="normal" text-anchor="start" stroke="#000" stroke-width="1.0">Erase(V<tspan font-size="30" dy="9">G</tspan><tspan dy="-9"> &lt; 0)</tspan></text>
<text transform="translate(1625.8 1337.8) scale(1 1.04)" font-family="'Liberation Sans', sans-serif" font-size="45.5" font-weight="normal" font-style="normal" text-anchor="middle" stroke="#000" stroke-width="0.5">Si</text>
<text transform="translate(1703.5 1337.8) scale(1 1.04)" font-family="'Liberation Sans', sans-serif" font-size="44.7" font-weight="normal" font-style="normal" text-anchor="start" stroke="#000" stroke-width="0.5"><tspan font-size="44.7">Al</tspan><tspan font-size="31.5" dy="8.5">2</tspan><tspan font-size="44.7" dy="-8.5">O</tspan><tspan font-size="31.5" dy="8.5">3</tspan></text>
<text transform="translate(1905.5 1243.3) scale(1.02 1.04)" font-family="'Liberation Sans', sans-serif" font-size="44.7" font-weight="normal" font-style="normal" text-anchor="start" stroke="#000" stroke-width="0.5"><tspan font-size="44.7">MoS</tspan><tspan font-size="31.5" dy="8.5">2</tspan></text>
<text transform="translate(2000 1521) scale(0.96 1.04)" font-family="'Liberation Sans', sans-serif" font-size="44.7" font-weight="normal" font-style="normal" text-anchor="start" stroke="#000" stroke-width="0.5"><tspan font-size="44.7">PdSe</tspan><tspan font-size="31.5" dy="8.5">2</tspan></text>
<text transform="translate(1802.5 1699.7) scale(1.06 1.04)" font-family="'Liberation Sans', sans-serif" font-size="44.7" font-weight="normal" font-style="normal" text-anchor="start" stroke="#000" stroke-width="0.5"><tspan font-size="44.7">HfO</tspan><tspan font-size="31.5" dy="8.5">2</tspan></text>
</g>
</svg>
</body></html>
